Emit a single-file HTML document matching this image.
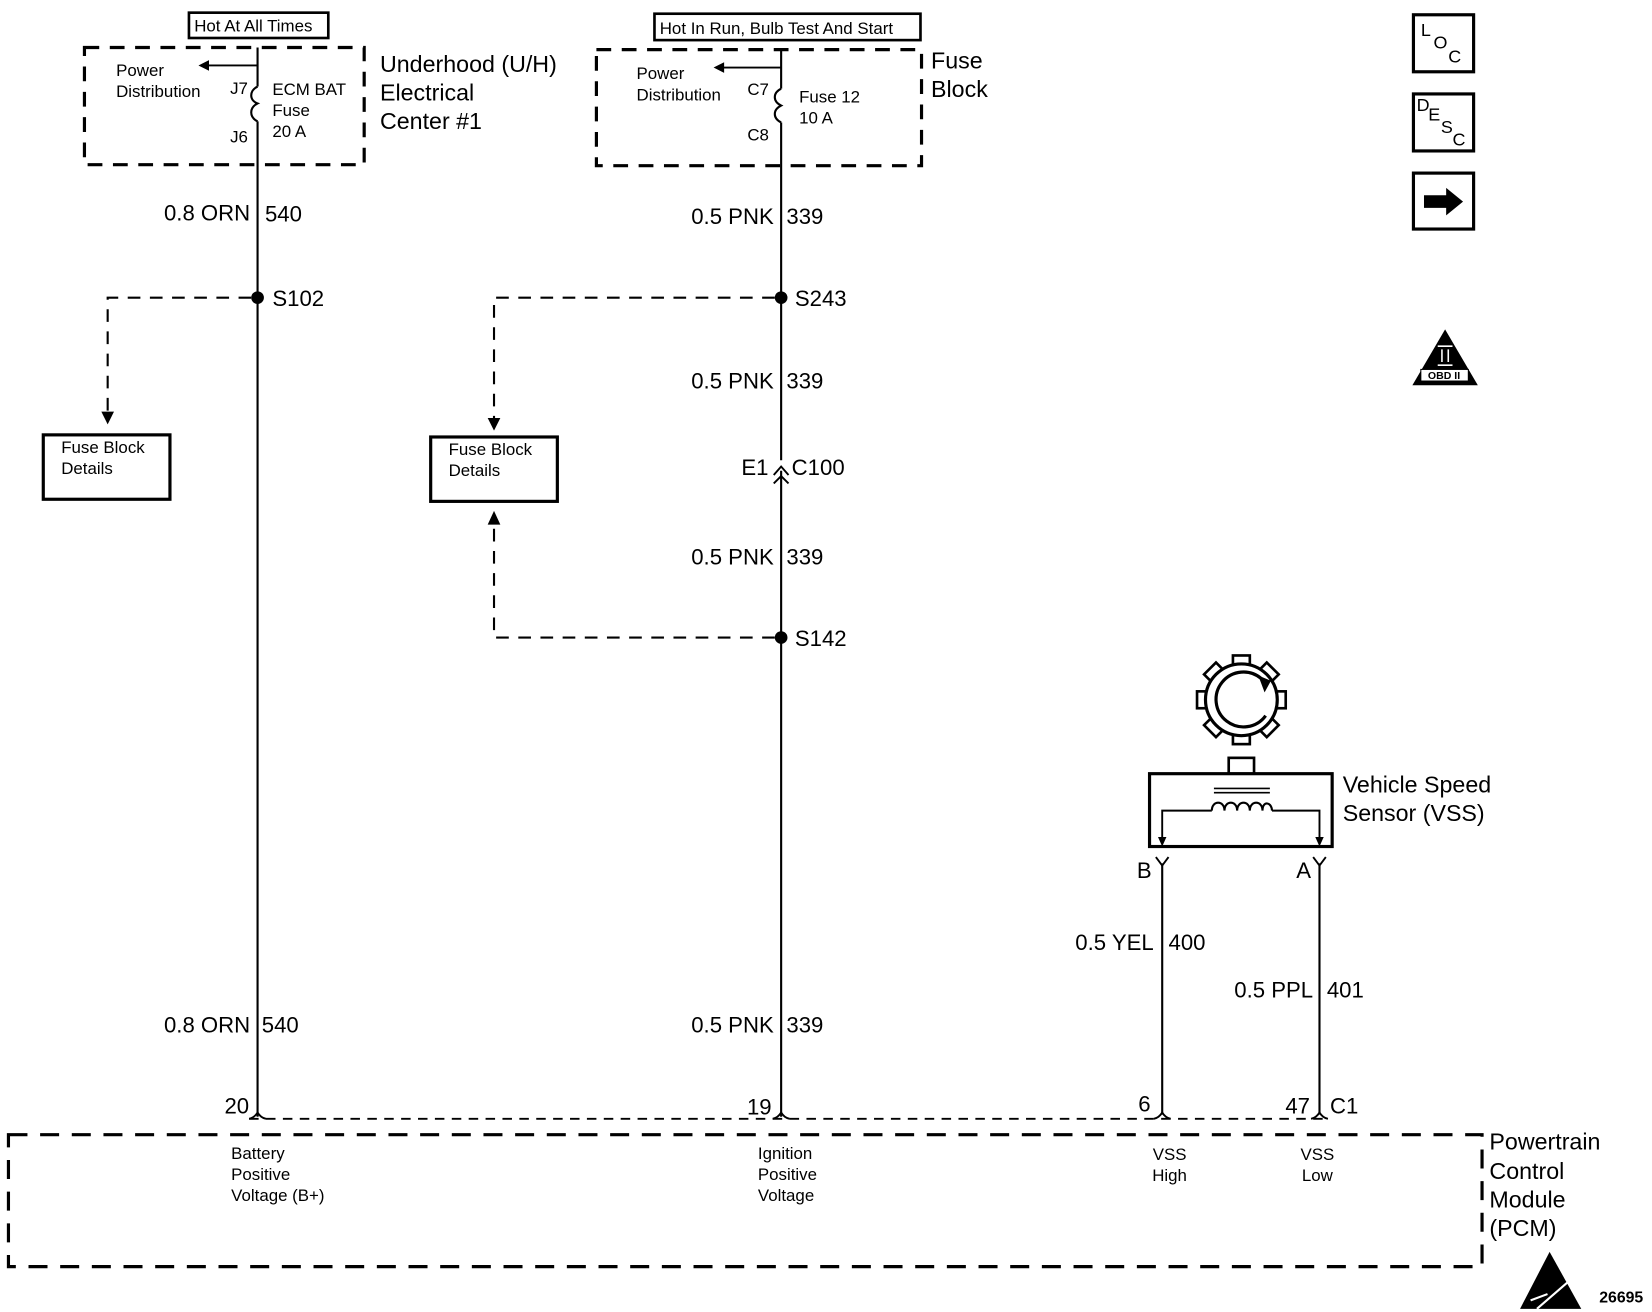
<!DOCTYPE html>
<html><head><meta charset="utf-8"><style>
html,body{margin:0;padding:0;background:#fff;}
svg{display:block;}
text{font-family:"Liberation Sans",Arial,sans-serif;fill:#000;}
</style></head><body>
<svg width="1652" height="1312" viewBox="0 0 1565 1243" preserveAspectRatio="none" xmlns="http://www.w3.org/2000/svg">
<g fill="none" stroke="#000">
<rect x="179" y="12" width="132" height="24" stroke-width="2.5"/>
<rect x="620" y="13" width="252" height="25" stroke-width="2.5"/>
<rect x="80" y="45" width="265" height="111" stroke-width="3" stroke-dasharray="14,10"/>
<rect x="565" y="47" width="308" height="110" stroke-width="3" stroke-dasharray="14,10"/>
<path d="M244 45 V82 M244 115 V1058" stroke-width="2"/>
<path d="M244 82 C236 86 236 95 244 98 C236 102 236 111 244 115" stroke-width="2"/>
<path d="M244 62 H196" stroke-width="1.8"/>
<path d="M740 47 V84 M740 116 V436 M740 446 V1058" stroke-width="2"/>
<path d="M740 84 C732 88 732 96 740 100 C732 104 732 112 740 116" stroke-width="2"/>
<path d="M740 64 H684" stroke-width="1.8"/>
<path d="M733 450 L740 442 L747 450 M733 458 L740 451 L747 458" stroke-width="1.8"/>
<path d="M238 282 H102 V390" stroke-width="2" stroke-dasharray="12,9"/>
<path d="M734 282 H468 V396" stroke-width="2" stroke-dasharray="12,9"/>
<path d="M734 604 H468 V497" stroke-width="2" stroke-dasharray="12,9"/>
<rect x="41" y="412" width="120" height="61" stroke-width="3"/>
<rect x="408" y="414" width="120" height="61" stroke-width="3"/>
<path d="M236 1060 H1258" stroke-width="1.8" stroke-dasharray="9,7"/>
<path d="M236 1060 Q241 1059 244 1054 Q247 1059 252 1060 M732 1060 Q737 1059 740 1054 Q743 1059 748 1060 M1093 1060 Q1098 1059 1101 1054 Q1104 1059 1109 1060 M1242 1060 Q1247 1059 1250 1054 Q1253 1059 1258 1060" stroke-width="1.8"/>
<rect x="8" y="1075" width="1396" height="125" stroke-width="3" stroke-dasharray="18,12"/>
<path d="M1101 818 V1056 M1250 818 V1056" stroke-width="2"/>
<path d="M1095 812 L1101 820 L1107 812 M1244 812 L1250 820 L1256 812" stroke-width="1.8"/>
<rect x="1089" y="733" width="173" height="69" stroke-width="3"/>
<rect x="1164" y="718" width="24" height="15" stroke-width="2.5"/>
<path d="M1101 795 V768 H1148 M1205 768 H1250 V795" stroke-width="1.8"/>
<path d="M1148 768 C1148 758 1160 758 1160 768 C1160 758 1172 758 1172 768 C1172 758 1184 758 1184 768 C1184 758 1196 758 1196 768 C1196 758 1205 760 1205 768" stroke-width="2"/>
<path d="M1150 747 H1203 M1150 751 H1203" stroke-width="1.5"/>
<rect x="1339" y="14" width="57" height="54" stroke-width="3"/>
<rect x="1339" y="89" width="57" height="54" stroke-width="3"/>
<rect x="1339" y="164" width="57" height="53" stroke-width="3"/>
</g>
<g fill="#fff" stroke="#000" stroke-width="2.5">
<rect x="1168" y="621" width="16" height="10" transform="rotate(0 1176 663)"/>
<rect x="1168" y="621" width="16" height="10" transform="rotate(45 1176 663)"/>
<rect x="1168" y="621" width="16" height="10" transform="rotate(90 1176 663)"/>
<rect x="1168" y="621" width="16" height="10" transform="rotate(135 1176 663)"/>
<rect x="1168" y="621" width="16" height="10" transform="rotate(180 1176 663)"/>
<rect x="1168" y="621" width="16" height="10" transform="rotate(225 1176 663)"/>
<rect x="1168" y="621" width="16" height="10" transform="rotate(270 1176 663)"/>
<rect x="1168" y="621" width="16" height="10" transform="rotate(315 1176 663)"/>
</g>
<circle cx="1176" cy="663" r="34" fill="#fff" stroke="#000" stroke-width="3"/>
<path d="M1195 643 A26 26 0 1 0 1199 678" fill="none" stroke="#000" stroke-width="3"/>
<g fill="#000">
<polygon points="1192,640 1204,645 1198,656"/>
<polygon points="188,62 198,57 198,67"/>
<polygon points="676,64 686,59 686,69"/>
<polygon points="96,390 108,390 102,402"/>
<polygon points="462,396 474,396 468,408"/>
<polygon points="462,497 474,497 468,484"/>
<polygon points="1097,793 1105,793 1101,802"/>
<polygon points="1246,793 1254,793 1250,802"/>
<circle cx="244" cy="282" r="6"/>
<circle cx="740" cy="282" r="6"/>
<circle cx="740" cy="604" r="6"/>
<polygon points="1349,185 1370,185 1370,178 1386,191 1370,204 1370,197 1349,197"/>
<polygon points="1369,312 1400,365 1338,365"/>
<polygon points="1468,1186 1498,1240 1440,1240"/>
</g>
<path d="M1456 1240 L1486 1214 M1450 1232 L1466 1226" stroke="#fff" stroke-width="2" fill="none"/>
<rect x="1346" y="350" width="45" height="11" fill="#fff" stroke="#000"/>
<text x="1368" y="359" font-size="10" font-weight="bold" text-anchor="middle">OBD II</text>
<path d="M1362 328 H1376 M1362 346 H1376 M1366 331 V343 M1372 331 V343" stroke="#fff" stroke-width="1.5"/>
<g font-size="16">
<text x="184" y="30">Hot At All Times</text>
<text x="625" y="32">Hot In Run, Bulb Test And Start</text>
<text x="110" y="72">Power</text><text x="110" y="92">Distribution</text>
<text x="218" y="89">J7</text><text x="218" y="135">J6</text>
<text x="258" y="90">ECM BAT</text><text x="258" y="110">Fuse</text><text x="258" y="130">20 A</text>
<text x="603" y="75">Power</text><text x="603" y="95">Distribution</text>
<text x="708" y="90">C7</text><text x="708" y="133">C8</text>
<text x="757" y="97">Fuse 12</text><text x="757" y="117">10 A</text>
<text x="58" y="429">Fuse Block</text><text x="58" y="449">Details</text>
<text x="425" y="431">Fuse Block</text><text x="425" y="451">Details</text>
<text x="219" y="1098">Battery</text><text x="219" y="1118">Positive</text><text x="219" y="1138">Voltage (B+)</text>
<text x="718" y="1098">Ignition</text><text x="718" y="1118">Positive</text><text x="718" y="1138">Voltage</text>
<text x="1108" y="1099" text-anchor="middle">VSS</text><text x="1108" y="1119" text-anchor="middle">High</text>
<text x="1248" y="1099" text-anchor="middle">VSS</text><text x="1248" y="1119" text-anchor="middle">Low</text>
<text x="1515" y="1234" font-weight="bold" font-size="15">26695</text>
</g>
<g font-size="22">
<text x="360" y="68">Underhood (U/H)</text><text x="360" y="95">Electrical</text><text x="360" y="122">Center #1</text>
<text x="882" y="65">Fuse</text><text x="882" y="92">Block</text>
<text x="1272" y="751">Vehicle Speed</text><text x="1272" y="778">Sensor (VSS)</text>
<text x="1411" y="1089">Powertrain</text><text x="1411" y="1117">Control</text><text x="1411" y="1144">Module</text><text x="1411" y="1171">(PCM)</text>
</g>
<g font-size="21">
<text x="237" y="209" text-anchor="end">0.8 ORN</text><text x="251" y="210">540</text>
<text x="258" y="290">S102</text>
<text x="733" y="212" text-anchor="end">0.5 PNK</text><text x="745" y="212">339</text>
<text x="753" y="290">S243</text>
<text x="733" y="368" text-anchor="end">0.5 PNK</text><text x="745" y="368">339</text>
<text x="728" y="450" text-anchor="end">E1</text><text x="750" y="450">C100</text>
<text x="733" y="535" text-anchor="end">0.5 PNK</text><text x="745" y="535">339</text>
<text x="753" y="612">S142</text>
<text x="237" y="978" text-anchor="end">0.8 ORN</text><text x="248" y="978">540</text>
<text x="733" y="978" text-anchor="end">0.5 PNK</text><text x="745" y="978">339</text>
<text x="236" y="1055" text-anchor="end">20</text>
<text x="731" y="1056" text-anchor="end">19</text>
<text x="1090" y="1053" text-anchor="end">6</text>
<text x="1241" y="1055" text-anchor="end">47</text><text x="1260" y="1055">C1</text>
<text x="1093" y="900" text-anchor="end">0.5 YEL</text><text x="1107" y="900">400</text>
<text x="1244" y="945" text-anchor="end">0.5 PPL</text><text x="1257" y="945">401</text>
<text x="1077" y="832">B</text><text x="1228" y="832">A</text>
</g>
<g font-size="17">
<text x="1346" y="34">L</text><text x="1358" y="46">O</text><text x="1372" y="59">C</text>
<text x="1342" y="105">D</text><text x="1353" y="114">E</text><text x="1365" y="126">S</text><text x="1376" y="138">C</text>
</g>
</svg>
</body></html>
